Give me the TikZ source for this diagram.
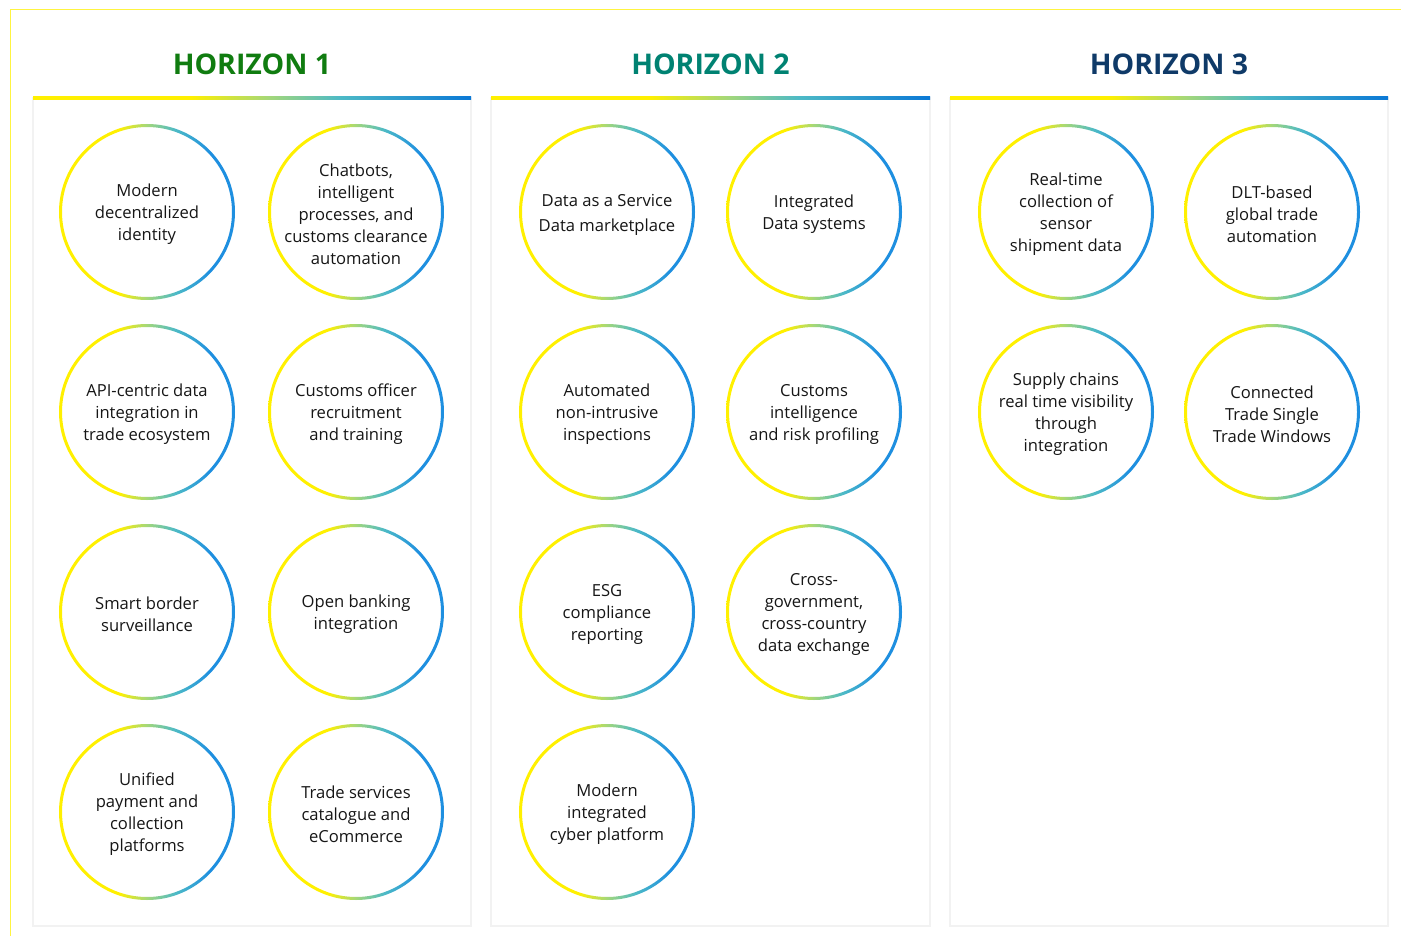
\documentclass[tikz,border=0pt]{standalone}
\usepackage{fontspec}
\setmainfont{Open Sans}
\definecolor{ylw}{HTML}{FFF000}
\definecolor{grn}{HTML}{A3D77A}
\definecolor{tl}{HTML}{4DBAC6}
\definecolor{blu}{HTML}{1E8FE0}
\definecolor{barblu}{HTML}{0A78D6}
\definecolor{hone}{HTML}{107C10}
\definecolor{htwo}{HTML}{008272}
\definecolor{hthree}{HTML}{0F3A68}
\definecolor{txtc}{HTML}{161616}
\pgfdeclarehorizontalshading{ringgrad}{100bp}{color(0bp)=(ylw); color(25bp)=(ylw); color(42bp)=(ylw); color(50bp)=(grn); color(58bp)=(tl); color(68bp)=(blu); color(100bp)=(blu)}
\pgfdeclarehorizontalshading{bargrad}{100bp}{color(0bp)=(ylw); color(25bp)=(ylw); color(43bp)=(ylw); color(52bp)=(grn); color(60bp)=(tl); color(75bp)=(barblu); color(100bp)=(barblu)}
\tikzset{
  txt/.style={align=center, text=txtc, font=\fontsize{16.6}{22}\selectfont, inner sep=0pt, yshift=-2.5pt},
  hdr/.style={font=\fontsize{28.5}{32}\selectfont\bfseries, inner sep=0pt},
  panel/.style={fill=white, draw=black!5, line width=1.2pt},
  ring/.style={shading=ringgrad, even odd rule},
  frameline/.style={draw=ylw!75, line width=1.1pt}
}
\begin{document}
\begin{tikzpicture}[x=1pt,y=-1pt]
\useasboundingbox (0,0) rectangle (1401,936);
% outer frame lines
\coordinate (ftr) at (1401,9.5);
\coordinate (ftl) at (10.5,9.5);
\coordinate (fbl) at (10.5,936);
\draw[frameline] (ftr) -- (ftl) -- (fbl);
% panels
\foreach \xa/\xb in {33/471, 491/930, 950/1388}{
  \draw[panel] (\xa,98) rectangle (\xb,926);
  \shade[shading=bargrad] (\xa,96.5) rectangle (\xb,99.5);
}
% headers
\node[hdr, text=hone] (h1) at (252,64) {HORIZON 1};
\node[hdr, text=htwo] (h2) at (710.5,64) {HORIZON 2};
\node[hdr, text=hthree] (h3) at (1169,64) {HORIZON 3};
% panel 1
\node[txt] (a1) at (147,212) {Modern\\decentralized\\identity};
\node[txt] (a2) at (356,212) {Chatbots,\\intelligent\\processes, and\\customs clearance\\automation};
\node[txt] (a3) at (147,412) {API-centric data\\integration in\\trade ecosystem};
\node[txt] (a4) at (356,412) {Customs officer\\recruitment\\and training};
\node[txt] (a5) at (147,612) {Smart border\\surveillance};
\node[txt] (a6) at (356,612) {Open banking\\integration};
\node[txt] (a7) at (147,812) {Unified\\payment and\\collection\\platforms};
\node[txt] (a8) at (356,812) {Trade services\\catalogue and\\eCommerce};
% panel 2
\node[txt, font=\fontsize{16.6}{25}\selectfont] (b1) at (607,212) {Data as a Service\\Data marketplace};
\node[txt] (b2) at (814,212) {Integrated\\Data systems};
\node[txt] (b3) at (607,412) {Automated\\non-intrusive\\inspections};
\node[txt] (b4) at (814,412) {Customs\\intelligence\\and risk profiling};
\node[txt] (b5) at (607,612) {ESG\\compliance\\reporting};
\node[txt] (b6) at (814,612) {Cross-\\government,\\cross-country\\data exchange};
\node[txt] (b7) at (607,812) {Modern\\integrated\\cyber platform};
% panel 3
\node[txt] (c1) at (1066,212) {Real-time\\collection of\\sensor\\shipment data};
\node[txt] (c2) at (1272,212) {DLT-based\\global trade\\automation};
\node[txt] (c3) at (1066,412) {Supply chains\\real time visibility\\through\\integration};
\node[txt] (c4) at (1272,412) {Connected\\Trade Single\\Trade Windows};
% rings (centred on the circle positions, independent of the text shift)
\foreach \n/\cx/\cy in {a1/147/212,a2/356/212,a3/147/412,a4/356/412,a5/147/612,a6/356/612,a7/147/812,a8/356/812,
  b1/607/212,b2/814/212,b3/607/412,b4/814/412,b5/607/612,b6/814/612,b7/607/812,
  c1/1066/212,c2/1272/212,c3/1066/412,c4/1272/412}{
  \coordinate (\n c) at (\cx,\cy);
  \shade[ring] (\n c) circle[radius=88pt] (\n c) circle[radius=85pt];
}
\end{tikzpicture}
\end{document}
